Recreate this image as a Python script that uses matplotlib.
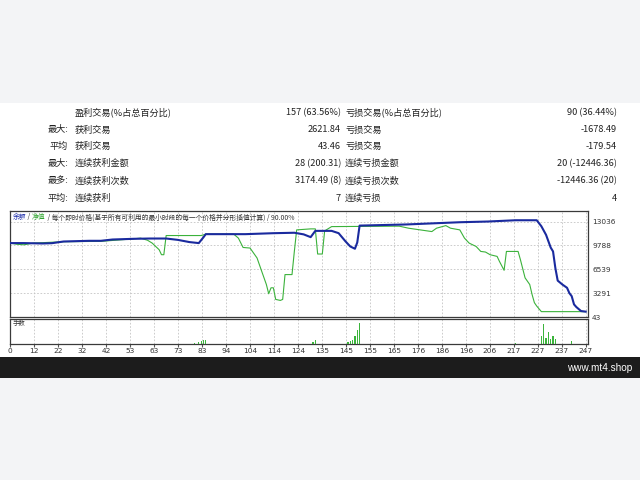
import matplotlib
matplotlib.use("Agg")
import matplotlib.pyplot as plt
from matplotlib.patches import Rectangle

plt.rcParams['font.family'] = ['Noto Sans CJK SC', 'DejaVu Sans']

# ---------------- data ----------------
row_prefix = ["", "最大:", "平均", "最大:", "最多:", "平均:"]
left_labels = ["盈利交易(%占总百分比)", "获利交易", "获利交易", "连续获利金额", "连续获利次数", "连续获利"]
left_values = ["157 (63.56%)", "2621.84", "43.46", "28 (200.31)", "3174.49 (8)", "7"]
right_labels = ["亏损交易(%占总百分比)", "亏损交易", "亏损交易", "连续亏损金额", "连续亏损次数", "连续亏损"]
right_values = ["90 (36.44%)", "-1678.49", "-179.54", "20 (-12446.36)", "-12446.36 (20)", "4"]

balance_trades = [0, 6, 14, 18, 23, 34, 39, 44, 53, 60, 67, 72, 77, 81, 83, 84, 101, 113, 122,
                  126, 129, 131, 138, 141, 144, 146, 148, 149, 150, 170, 193, 205, 217, 226,
                  228, 230, 232, 233, 234, 235, 237, 239, 240, 241, 242, 243, 245, 247]
balance_values = [10112, 10112, 10058, 10100, 10329, 10424, 10424, 10600, 10694, 10735, 10735,
                  10550, 10250, 10112, 10900, 11330, 11330, 11460, 11520, 11300, 10924, 11777,
                  11777, 11463, 10329, 9652, 9341, 10200, 12494, 12650, 12954, 13050, 13225,
                  13225, 12400, 11236, 9500, 8975, 6700, 5000, 4469, 4022, 3300, 2885, 1762,
                  1400, 855, 774]

equity_trades = [0, 3, 6, 10, 23, 39, 53, 56, 59, 61, 64, 65, 66, 67, 82, 84, 96, 98, 100, 103,
                 106, 108, 110, 111, 112, 113, 114, 116, 117, 118, 121, 122, 123, 129, 131, 132,
                 134, 135, 138, 167, 171, 173, 181, 183, 187, 189, 193, 195, 197, 200, 202, 204,
                 206, 209, 210, 212, 213, 218, 219, 221, 223, 224, 225, 226, 228, 247]
equity_values = [10112, 9950, 9882, 10112, 10300, 10350, 10690, 10789, 10500, 10112, 9205, 8529,
                 8529, 11141, 11141, 11330, 11330, 10789, 9517, 9436, 8082, 6269, 4469, 3210,
                 4022, 4022, 2438, 2303, 2438, 5822, 5822, 8975, 11912, 12048, 12048, 8624, 8624,
                 11777, 12359, 12420, 12142, 12048, 11682, 12142, 12494, 12142, 11912, 10789,
                 10112, 9652, 8975, 8894, 8529, 8299, 7622, 6404, 8975, 8975, 7852, 5375, 4469,
                 3115, 1992, 1532, 774, 774]

lot_trades = [79, 81, 82, 83, 84, 130, 131, 145, 146, 147, 148, 149, 150, 217,
              228, 229, 230, 231, 232, 233, 234, 241]
lot_values = [0.06, 0.12, 0.16, 0.22, 0.24, 0.12, 0.24, 0.10, 0.14, 0.22, 0.44, 0.86, 1.28, 0.04,
              0.46, 1.22, 0.32, 0.72, 0.26, 0.44, 0.26, 0.16]

x_tick_labels = ["0", "12", "22", "32", "42", "53", "63", "73", "83", "94", "104", "114", "124",
                 "135", "145", "155", "165", "176", "186", "196", "206", "217", "227", "237", "247"]
y_ticks = [43, 3291, 6539, 9788, 13036]
total_trades = 247

# ---------------- figure ----------------
W, H = 640, 480
fig = plt.figure(figsize=(6.4, 4.8), dpi=100, facecolor='#f3f4f6')

def fx(x):
    return x / W

def fy(y):
    return 1 - y / H

fig.patches.append(Rectangle((0, fy(357)), 1, (357 - 103) / H, transform=fig.transFigure,
                             facecolor='white', edgecolor='none', zorder=-10))
fig.patches.append(Rectangle((0, fy(378)), 1, (378 - 357) / H, transform=fig.transFigure,
                             facecolor='#1c1c1c', edgecolor='none', zorder=-10))
fig.text(fx(632), fy(368), "www.mt4.shop", color='white', fontsize=7.2,
         family=['Liberation Sans', 'DejaVu Sans'], ha='right', va='center')

# table
row_y = [112.7, 130, 146.7, 163.3, 181, 198.3]
fs = 6.6
tc = '#222222'
for i, yy in enumerate(row_y):
    if row_prefix[i]:
        fig.text(fx(68), fy(yy), row_prefix[i], fontsize=fs, color=tc, ha='right', va='center')
    fig.text(fx(75), fy(yy), left_labels[i], fontsize=fs, color=tc, ha='left', va='center')
    fig.text(fx(341), fy(yy), left_values[i], fontsize=fs, color=tc, ha='right', va='center')
    fig.text(fx(345), fy(yy), right_labels[i], fontsize=fs, color=tc, ha='left', va='center')
    fig.text(fx(617), fy(yy), right_values[i], fontsize=fs, color=tc, ha='right', va='center')

# main chart
left, right = 10, 588
top_main, bot_main = 210.7, 317
top_low, bot_low = 318.5, 343.5
ax = fig.add_axes([fx(left), fy(bot_main), (right - left) / W, (bot_main - top_main) / H])
ax2 = fig.add_axes([fx(left), fy(bot_low), (right - left) / W, (bot_low - top_low) / H])

xticks = [i * total_trades / 24 for i in range(25)]
grid_kw = dict(color='#c4c4c4', linestyle=(0, (2, 2)), linewidth=0.6)

for a in (ax, ax2):
    a.set_facecolor('white')
    a.set_xlim(0, 248)
    for s in a.spines.values():
        s.set_color('#3a3a3a')
        s.set_linewidth(0.9)
    a.set_xticks(xticks)
    a.set_axisbelow(True)
    a.xaxis.grid(True, **grid_kw)

ax.plot(equity_trades, equity_values, color='#3bb23b', linewidth=0.8, zorder=3)
ax.plot(balance_trades, balance_values, color='#1a2a9e', linewidth=1.5, zorder=4)
ax.set_ylim(43, 14525)
ax.set_yticks(y_ticks)
ax.yaxis.tick_right()
ax.tick_params(axis='y', length=0, pad=3, labelsize=5.3, labelcolor='#333333')
for t in ax.get_yticklabels():
    t.set_family(['DejaVu Sans'])
ax.yaxis.grid(True, **grid_kw)
ax.tick_params(axis='x', length=0, labelbottom=False)

# title inside chart
tfs = 4.9
t1 = ax.text((13 - left) / (right - left), 1 - (217.5 - top_main) / (bot_main - top_main),
             "余额", transform=ax.transAxes, fontsize=tfs, color='#1a2aa8', va='center', ha='left')
t2 = ax.annotate(" / ", xy=(1, 0.5), xycoords=t1, fontsize=tfs, color='#333333', va='center', ha='left')
t3 = ax.annotate("净值", xy=(1, 0.5), xycoords=t2, fontsize=tfs, color='#2ea52e', va='center', ha='left')
ax.annotate(" / 每个即时价格(基于所有可利用的最小时段的每一个价格并分形插值计算) / 90.00%",
            xy=(1, 0.5), xycoords=t3, fontsize=tfs, color='#333333', va='center', ha='left')

# lots panel
ax2.bar(lot_trades, lot_values, width=0.5, color='#3cb43c', zorder=3)
ax2.set_ylim(0, 1.56)
ax2.set_yticks([])
ax2.set_xticklabels(x_tick_labels)
ax2.tick_params(axis='x', length=2, pad=1.5, labelsize=5.3, labelcolor='#333333', color='#555555')
for t in ax2.get_xticklabels():
    t.set_family(['DejaVu Sans'])
ax2.text(0.005, 0.82, "手数", transform=ax2.transAxes, fontsize=4.6, color='#333333',
         va='center', ha='left')

fig.savefig("out.png", dpi=100, facecolor=fig.get_facecolor())
